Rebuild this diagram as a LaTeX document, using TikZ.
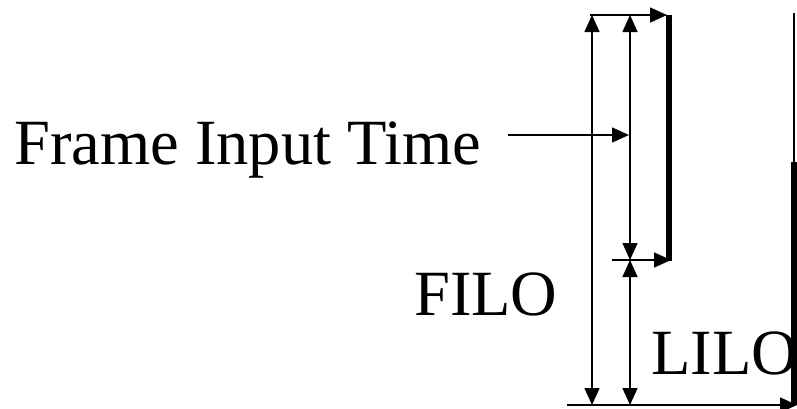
\documentclass[tikz,border=0pt]{standalone}
\usepackage{fontspec}
\setmainfont{Liberation Serif}
\usetikzlibrary{arrows.meta}
\begin{document}
\begin{tikzpicture}[x=1pt,y=-1pt,
  thinline/.style={line width=1.4pt},
  tip/.style={-{Triangle[length=17pt,width=15pt]}},
  bothtips/.style={{Triangle[length=17pt,width=15pt]}-{Triangle[length=17pt,width=15pt]}},
  bar/.style={line width=6pt},
  lbl/.style={inner sep=0pt,anchor=base west,font=\fontsize{64.5}{70}\selectfont}]
\useasboundingbox (0,0) rectangle (797,408);

% reference points
\coordinate (topL) at (590,15);
\coordinate (topR) at (667,15);
\coordinate (vA1) at (592,15);
\coordinate (vA2) at (592,405);
\coordinate (vB1) at (630,15);
\coordinate (vB2) at (630,260);
\coordinate (vB3) at (630,405);
\coordinate (midL) at (612,260);
\coordinate (midR) at (671,260);
\coordinate (barA1) at (669,15);
\coordinate (barA2) at (669,261);
\coordinate (botL) at (567,405);
\coordinate (botR) at (797,405);
\coordinate (barB0) at (794,13);
\coordinate (barB1) at (794,162);
\coordinate (barB2) at (794,405);
\coordinate (ptr) at (508,135);
\coordinate (ptrEnd) at (629,135);

% labels
\node[lbl] (fit) at (14,164) {Frame Input Time};
\node[lbl] (filo) at (414,315) {FILO};
\node[lbl] (lilo) at (651,374) {LILO};

% thick bars
\draw[bar] (barA1) -- (barA2);
\draw[thinline] (barB0) -- (barB1);
\draw[bar] (barB1) -- (barB2);

% horizontal lines
\draw[thinline,tip] (topL) -- (topR);
\draw[thinline,tip] (midL) -- (midR);
\draw[thinline,tip] (botL) -- (botR);
\draw[thinline,tip] (ptr) -- (ptrEnd);

% vertical dimension arrows
\draw[thinline,bothtips] (vA1) -- (vA2);
\draw[thinline,bothtips] (vB1) -- (vB2);
\draw[thinline,bothtips] (vB2) -- (vB3);
\end{tikzpicture}
\end{document}
